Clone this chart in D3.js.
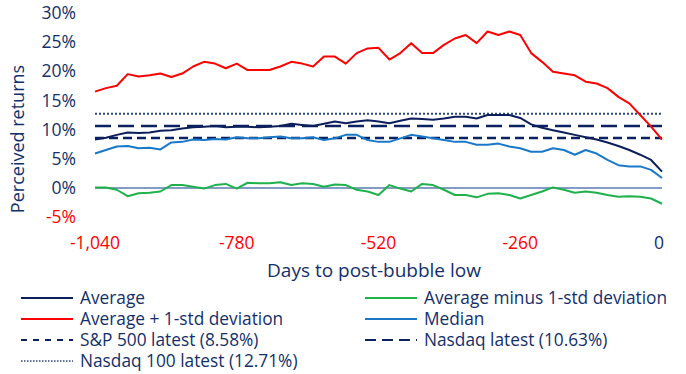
<!DOCTYPE html>
<html lang="en">
<head>
  <meta charset="UTF-8" />
  <title>Perceived returns</title>
  <script src="https://d3js.org/d3.v7.min.js"></script>
  <style>
    html, body {
      margin: 0;
      padding: 0;
      background: #fff;
    }
    svg text {
      font-family: "Open Sans", Lato, sans-serif;
    }
  </style>
</head>
<body>
  <svg id="chart" width="686" height="374"></svg>

  <script>
    // days to post-bubble low, every 20 days
    const days = d3.range(-1040, 1, 20);

    const avgPlus = [16.5, 17.1, 17.5, 19.5, 19.1, 19.3, 19.6, 19.0, 19.6, 20.8, 21.6, 21.3, 20.5,
      21.3, 20.2, 20.2, 20.2, 20.8, 21.6, 21.3, 20.8, 22.5, 22.5, 21.3, 23.1, 23.9, 24.0,
      22.0, 23.1, 24.8, 23.1, 23.1, 24.5, 25.6, 26.2, 24.8, 26.8, 26.2, 26.8, 26.2,
      23.1, 21.6, 19.9, 19.6, 19.3, 18.2, 17.9, 17.1, 15.6, 14.5, 12.5, 10.5, 8.3];
    const average = [8.3, 8.6, 9.1, 9.5, 9.4, 9.5, 9.8, 9.9, 10.2, 10.4, 10.5, 10.6, 10.4,
      10.5, 10.5, 10.4, 10.5, 10.6, 11.0, 10.8, 10.6, 11.0, 11.4, 11.1, 11.4, 11.6, 11.4,
      11.1, 11.5, 11.9, 11.8, 11.7, 11.9, 12.2, 12.2, 11.9, 12.5, 12.5, 12.5, 12.0,
      10.9, 10.3, 9.9, 9.5, 9.1, 8.7, 8.3, 7.8, 7.2, 6.5, 5.7, 4.8, 2.8];
    const median = [5.9, 6.5, 7.1, 7.2, 6.8, 6.9, 6.6, 7.8, 7.9, 8.3, 8.2, 8.4, 8.3,
      8.7, 8.5, 8.5, 8.7, 8.8, 8.5, 8.5, 8.7, 8.2, 8.5, 9.1, 9.1, 8.2, 7.9,
      7.9, 8.5, 9.1, 8.8, 8.5, 8.2, 7.9, 7.9, 7.4, 7.4, 7.6, 7.1, 6.8,
      6.2, 6.2, 6.8, 6.5, 5.7, 6.5, 5.9, 4.8, 3.9, 3.7, 3.7, 3.1, 1.7];
    const avgMinus = [0.1, 0.1, -0.3, -1.4, -0.9, -0.8, -0.6, 0.5, 0.5, 0.2, -0.1, 0.5, 0.7,
      -0.1, 0.9, 0.8, 0.8, 1.0, 0.5, 0.8, 0.7, 0.2, 0.6, 0.5, -0.3, -0.6, -1.2,
      0.5, -0.1, -0.6, 0.7, 0.5, -0.3, -1.2, -1.2, -1.6, -1.0, -0.9, -1.2, -1.8,
      -1.2, -0.6, 0.1, -0.3, -0.8, -0.6, -0.8, -1.2, -1.5, -1.4, -1.5, -1.8, -2.7];

    const spLatest = 8.58;
    const nasdaqLatest = 10.63;
    const ndx100Latest = 12.71;

    const xTicks = [-1040, -780, -520, -260, 0];
    const yTicks = [-5, 0, 5, 10, 15, 20, 25, 30];

    const navy = "#13306b";
    const red = "#ff0000";

    const svg = d3.select("#chart");

    const x = d3.scaleLinear().domain([-1040, 0]).range([95, 662]);
    const y = d3.scaleLinear().domain([-5, 30]).range([217.2, 12.8]);

    // plain hyphen for negatives, as in the original
    const fmtX = d => (d < 0 ? "-" : "") + d3.format(",")(Math.abs(d));

    // y tick labels
    svg.append("g")
      .selectAll("text")
      .data(yTicks)
      .join("text")
      .attr("x", 76)
      .attr("y", d => y(d))
      .attr("dy", "0.35em")
      .attr("text-anchor", "end")
      .attr("font-size", "17.5px")
      .attr("fill", d => d < 0 ? red : navy)
      .text(d => (d < 0 ? "-" : "") + Math.abs(d) + "%");

    // x tick labels
    svg.append("g")
      .selectAll("text")
      .data(xTicks)
      .join("text")
      .attr("x", d => x(d) - (d === 0 ? 3 : 0))
      .attr("y", 243)
      .attr("dy", "0.35em")
      .attr("text-anchor", "middle")
      .attr("font-size", "17.5px")
      .attr("fill", d => d < 0 ? red : navy)
      .text(fmtX);

    // axis titles
    svg.append("text")
      .attr("x", 374)
      .attr("y", 270)
      .attr("dy", "0.35em")
      .attr("text-anchor", "middle")
      .attr("font-size", "19px")
      .attr("fill", navy)
      .text("Days to post-bubble low");

    svg.append("text")
      .attr("transform", "translate(18,139) rotate(-90)")
      .attr("dy", "0.35em")
      .attr("text-anchor", "middle")
      .attr("font-size", "18px")
      .attr("fill", navy)
      .text("Perceived returns");

    // zero line
    svg.append("line")
      .attr("x1", x(-1040)).attr("x2", x(0))
      .attr("y1", y(0)).attr("y2", y(0))
      .attr("stroke", "#0b3a8c")
      .attr("stroke-width", 1.2);

    // reference lines
    const refs = [
      { v: ndx100Latest, dash: "2,2", width: 2, color: "#2a4580" },
      { v: nasdaqLatest, dash: "16,7", width: 2.5, color: "#0a2261" },
      { v: spLatest, dash: "9,5", width: 2.5, color: "#0a2261" }
    ];
    svg.append("g")
      .selectAll("line")
      .data(refs)
      .join("line")
      .attr("x1", x(-1040)).attr("x2", x(0))
      .attr("y1", d => y(d.v)).attr("y2", d => y(d.v))
      .attr("stroke", d => d.color)
      .attr("stroke-width", d => d.width)
      .attr("stroke-dasharray", d => d.dash);

    const series = [
      { values: avgMinus, color: "#1eb14c" },
      { values: median, color: "#1a78c8" },
      { values: average, color: "#0c1f5c" },
      { values: avgPlus, color: red }
    ];

    const line = d3.line()
      .x((d, i) => x(days[i]))
      .y(d => y(d));

    svg.append("g")
      .selectAll("path")
      .data(series)
      .join("path")
      .attr("d", d => line(d.values))
      .attr("fill", "none")
      .attr("stroke", d => d.color)
      .attr("stroke-width", 2)
      .attr("stroke-linejoin", "round");

    // legend
    const legendItems = [
      { label: "Average", color: "#0c1f5c", dash: null, width: 2, col: 0, row: 0 },
      { label: "Average + 1-std deviation", color: red, dash: null, width: 2, col: 0, row: 1 },
      { label: "S&P 500 latest (8.58%)", color: "#0a2261", dash: "6,6", width: 2, col: 0, row: 2 },
      { label: "Nasdaq 100 latest (12.71%)", color: "#2a4580", dash: "1.5,1.5", width: 1.5, col: 0, row: 3 },
      { label: "Average minus 1-std deviation", color: "#1eb14c", dash: null, width: 2, col: 1, row: 0 },
      { label: "Median", color: "#1a78c8", dash: null, width: 2, col: 1, row: 1 },
      { label: "Nasdaq latest (10.63%)", color: "#0a2261", dash: "11,6", width: 2, col: 1, row: 2 }
    ];
    const colX = [21, 365];
    const rowY = [298, 319, 340, 361];

    const legend = svg.append("g")
      .selectAll("g")
      .data(legendItems)
      .join("g")
      .attr("transform", d => `translate(${colX[d.col]},${rowY[d.row]})`);

    legend.append("line")
      .attr("x1", 0).attr("x2", 52)
      .attr("y1", 0).attr("y2", 0)
      .attr("stroke", d => d.color)
      .attr("stroke-width", d => d.width)
      .attr("stroke-dasharray", d => d.dash);

    legend.append("text")
      .attr("x", 59)
      .attr("dy", "0.35em")
      .attr("font-size", "17.3px")
      .attr("fill", navy)
      .text(d => d.label);
  </script>
</body>
</html>
